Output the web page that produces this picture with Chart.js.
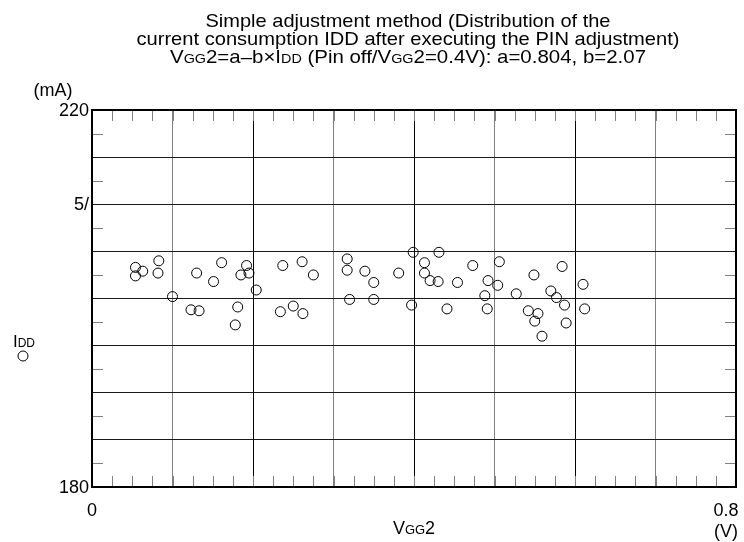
<!DOCTYPE html>
<html>
<head>
<meta charset="utf-8">
<title>IDD distribution</title>
<script src="https://cdn.jsdelivr.net/npm/chart.js@4/dist/chart.umd.min.js"></script>
<style>
  html, body { margin: 0; padding: 0; background: #fff; }
  #wrap { width: 744px; height: 542px; }
</style>
</head>
<body>
<div id="wrap"><canvas id="chart" width="744" height="542"></canvas></div>
<script>
// ─── DATA ────────────────────────────────────────────────────────────────────

const vgg2 = [0.054, 0.054, 0.063, 0.083, 0.082, 0.100, 0.130, 0.123, 0.133, 0.161,
              0.151, 0.192, 0.185, 0.195, 0.204, 0.181, 0.178, 0.237, 0.261, 0.275,
              0.234, 0.250, 0.262, 0.317, 0.317, 0.339, 0.350, 0.320, 0.350, 0.381,
              0.399, 0.397, 0.431, 0.413, 0.413, 0.420, 0.430, 0.441, 0.454, 0.473,
              0.492, 0.488, 0.491, 0.506, 0.504, 0.527, 0.549, 0.584, 0.570, 0.577,
              0.587, 0.542, 0.554, 0.550, 0.589, 0.559, 0.610, 0.612];

const idd = [203.3, 202.4, 202.9, 204.0, 202.7, 200.2, 202.7, 198.8, 198.7, 203.8,
             201.8, 203.5, 202.5, 202.7, 200.9, 199.1, 197.2, 203.5, 203.9, 202.5,
             198.6, 199.2, 198.4, 204.2, 203.0, 202.9, 201.7, 199.9, 199.9, 202.7,
             204.9, 199.3, 204.9, 203.8, 202.7, 201.9, 201.8, 198.9, 201.7, 203.5,
             201.9, 200.3, 198.9, 203.9, 201.4, 200.5, 202.5, 203.4, 200.8, 200.1,
             199.3, 198.7, 198.4, 197.6, 197.4, 196.0, 201.5, 198.9];

const xTickValues = [0, 0.8];
const xTickLabels = ["0", "0.8"];
const yTickValues = [220, 210, 180];
const yTickLabels = ["220", "5/", "180"];

const titleLines = [
    [{ t: "Simple adjustment method (Distribution of the" }],
    [{ t: "current consumption IDD after executing the PIN adjustment)" }],
    [{ t: "V" }, { t: "GG", sub: true }, { t: "2=a\u2013b\u00d7" }, { t: "I" }, { t: "DD", sub: true },
     { t: " (Pin off/V" }, { t: "GG", sub: true }, { t: "2=0.4V): a=0.804, b=2.07" }]
];
const xTitle = [{ t: "V" }, { t: "GG", sub: true }, { t: "2" }];
const xUnit = "(V)";
const yUnit = "(mA)";
const seriesName = [{ t: "I" }, { t: "DD", sub: true }];

// ─── TEXT HELPERS ────────────────────────────────────────────────────────────

const FONT = "'Liberation Sans', Arial, sans-serif";

function segWidth(ctx, segs, size) {
    let w = 0;
    segs.forEach(s => {
        ctx.font = `${s.sub ? Math.round(size * 0.72) : size}px ${FONT}`;
        w += ctx.measureText(s.t).width;
    });
    return w;
}

// draws rich text centred on cx, fitted to width w if given
function drawRich(ctx, segs, cx, y, size, w) {
    const natural = segWidth(ctx, segs, size);
    const sx = w ? w / natural : 1;
    ctx.save();
    ctx.translate(cx - natural * sx / 2, y);
    ctx.scale(sx, 1);
    ctx.textAlign = "left";
    ctx.textBaseline = "alphabetic";
    ctx.fillStyle = "#000";
    let x = 0;
    segs.forEach(s => {
        ctx.font = `${s.sub ? Math.round(size * 0.72) : size}px ${FONT}`;
        ctx.fillText(s.t, x, 0);
        x += ctx.measureText(s.t).width;
    });
    ctx.restore();
}

// ─── PLUGIN: frame, minor ticks, labels ──────────────────────────────────────

const decorPlugin = {
    id: "decor",
    afterDraw(chart) {
        const ctx = chart.ctx;
        const a = chart.chartArea;
        const xs = chart.scales.x, ys = chart.scales.y;

        // minor ticks
        ctx.save();
        ctx.strokeStyle = "#808080";
        ctx.lineWidth = 1;
        ctx.beginPath();
        for (let v = 0.025; v < 0.8; v += 0.025) {
            const px = Math.round(xs.getPixelForValue(v)) + 0.5;
            ctx.moveTo(px, a.top); ctx.lineTo(px, a.top + 11);
            ctx.moveTo(px, a.bottom); ctx.lineTo(px, a.bottom - 11);
        }
        for (let v = 182.5; v < 220; v += 5) {
            const py = Math.round(ys.getPixelForValue(v)) + 0.5;
            ctx.moveTo(a.left, py); ctx.lineTo(a.left + 11, py);
            ctx.moveTo(a.right, py); ctx.lineTo(a.right - 11, py);
        }
        ctx.stroke();

        // frame
        ctx.strokeStyle = "#000";
        ctx.lineWidth = 2;
        ctx.strokeRect(a.left, a.top, a.right - a.left, a.bottom - a.top);
        ctx.restore();

        // tick labels
        ctx.save();
        ctx.fillStyle = "#000";
        ctx.font = `18px ${FONT}`;
        ctx.textAlign = "right";
        ctx.textBaseline = "middle";
        yTickValues.forEach((v, i) => {
            ctx.fillText(yTickLabels[i], a.left - 3, ys.getPixelForValue(v) + 1);
        });
        ctx.textAlign = "center";
        ctx.textBaseline = "alphabetic";
        xTickValues.forEach((v, i) => {
            let px = xs.getPixelForValue(v);
            if (i === xTickValues.length - 1) px -= 10;
            ctx.fillText(xTickLabels[i], px, a.bottom + 29);
        });
        ctx.fillText(xUnit, xs.getPixelForValue(0.8) - 10, a.bottom + 50);
        ctx.fillText(yUnit, 53, 96);
        ctx.restore();

        // axis title + legend
        drawRich(ctx, xTitle, (a.left + a.right) / 2, a.bottom + 47, 18);
        drawRich(ctx, seriesName, 24, 347, 17);
        ctx.save();
        ctx.strokeStyle = "#000";
        ctx.lineWidth = 1;
        ctx.beginPath();
        ctx.arc(23, 356, 5, 0, Math.PI * 2);
        ctx.stroke();
        ctx.restore();

        // title
        const tw = [405, 543, 476];
        titleLines.forEach((line, i) => {
            drawRich(ctx, line, 408, 27 + i * 18, 18.5, tw[i]);
        });
    }
};

// ─── CHART ───────────────────────────────────────────────────────────────────

const points = vgg2.map((v, i) => ({ x: v, y: idd[i] }));

new Chart(document.getElementById("chart"), {
    type: "scatter",
    data: {
        datasets: [{
            label: "IDD",
            data: points,
            pointStyle: "circle",
            pointRadius: 5,
            pointBorderWidth: 1,
            borderColor: "#000",
            backgroundColor: "rgba(0,0,0,0)"
        }]
    },
    options: {
        responsive: false,
        animation: false,
        devicePixelRatio: 1,
        layout: { padding: { left: 92, top: 110, right: 8, bottom: 55 } },
        plugins: { legend: { display: false }, title: { display: false }, tooltip: { enabled: false } },
        scales: {
            x: {
                type: "linear", min: 0, max: 0.8,
                ticks: { display: false, stepSize: 0.1 },
                border: { display: false },
                grid: {
                    drawTicks: false,
                    lineWidth: 1,
                    color: c => (Math.round(c.tick.value * 10) % 2 === 1 ? "#808080" : "#000")
                }
            },
            y: {
                type: "linear", min: 180, max: 220,
                ticks: { display: false, stepSize: 5 },
                border: { display: false },
                grid: { drawTicks: false, lineWidth: 1, color: "#1a1a1a" }
            }
        }
    },
    plugins: [decorPlugin]
});
</script>
</body>
</html>
